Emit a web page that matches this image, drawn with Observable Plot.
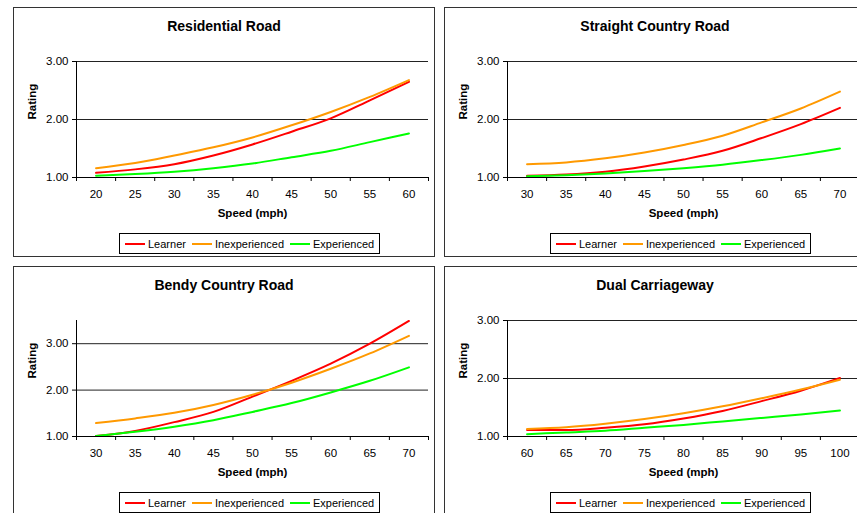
<!DOCTYPE html>
<html>
<head>
<meta charset="utf-8">
<script src="https://cdn.jsdelivr.net/npm/d3@7"></script>
<script src="https://cdn.jsdelivr.net/npm/@observablehq/plot@0.6"></script>
<style>
  body { margin: 0; background: #fff; font-family: "Liberation Sans", Arial, sans-serif; }
  #wrap { position: relative; width: 857px; height: 513px; overflow: hidden; background: #fff; }
  .panel { position: absolute; width: 420px; height: 248px; border: 1px solid #333; background: #fff; }
  .panel svg { position: absolute; left: 0; top: 0; overflow: visible; }
  .title { position: absolute; left: 0; width: 420px; top: 10px; text-align: center; font-weight: bold; font-size: 14px; line-height: 16px; color: #000; }
  .legend { position: absolute; left: 105px; top: 225px; height: 19px; border: 1px solid #000; display: flex; align-items: center; font-size: 11px; padding: 0 5px 0 5px; background: #fff; color: #000; }
  .sw { display: inline-block; width: 20px; height: 2px; margin-right: 3px; }
  .lab { margin-right: 6px; }
  .lab:last-child { margin-right: 0; }
</style>
</head>
<body>
<div id="wrap"></div>
<script>
// ---- data ----
const seriesNames = ["Learner", "Inexperienced", "Experienced"];
const seriesColors = ["#ff0000", "#ff9900", "#00ff00"];

const residentialSpeeds = [20, 25, 30, 35, 40, 45, 50, 55, 60];
const residentialLearner = [1.08, 1.14, 1.23, 1.38, 1.57, 1.79, 2.02, 2.33, 2.65];
const residentialInexperienced = [1.16, 1.25, 1.38, 1.52, 1.69, 1.90, 2.13, 2.39, 2.68];
const residentialExperienced = [1.03, 1.06, 1.10, 1.16, 1.24, 1.35, 1.46, 1.61, 1.76];

const straightSpeeds = [30, 35, 40, 45, 50, 55, 60, 65, 70];
const straightLearner = [1.03, 1.05, 1.10, 1.19, 1.31, 1.46, 1.68, 1.92, 2.20];
const straightInexperienced = [1.23, 1.26, 1.33, 1.43, 1.56, 1.72, 1.95, 2.19, 2.48];
const straightExperienced = [1.02, 1.04, 1.07, 1.11, 1.16, 1.22, 1.30, 1.39, 1.50];

const bendySpeeds = [30, 35, 40, 45, 50, 55, 60, 65, 70];
const bendyLearner = [1.01, 1.12, 1.31, 1.53, 1.86, 2.20, 2.57, 3.00, 3.49];
const bendyInexperienced = [1.29, 1.39, 1.51, 1.68, 1.90, 2.16, 2.46, 2.79, 3.17];
const bendyExperienced = [1.01, 1.10, 1.21, 1.35, 1.53, 1.72, 1.95, 2.20, 2.49];

const dualSpeeds = [60, 65, 70, 75, 80, 85, 90, 95, 100];
const dualLearner = [1.11, 1.11, 1.15, 1.21, 1.31, 1.44, 1.61, 1.79, 2.01];
const dualInexperienced = [1.13, 1.16, 1.22, 1.30, 1.40, 1.52, 1.66, 1.81, 1.98];
const dualExperienced = [1.04, 1.07, 1.10, 1.15, 1.20, 1.26, 1.32, 1.38, 1.45];

const yTicks = [1, 2, 3];
const xLabel = "Speed (mph)";
const yLabel = "Rating";

const panels = [
  {title: "Residential Road", speeds: residentialSpeeds, series: [residentialLearner, residentialInexperienced, residentialExperienced], yMax: 3, left: 13, top: 7},
  {title: "Straight Country Road", speeds: straightSpeeds, series: [straightLearner, straightInexperienced, straightExperienced], yMax: 3, left: 444, top: 7},
  {title: "Bendy Country Road", speeds: bendySpeeds, series: [bendyLearner, bendyInexperienced, bendyExperienced], yMax: 3.5, left: 13, top: 266},
  {title: "Dual Carriageway", speeds: dualSpeeds, series: [dualLearner, dualInexperienced, dualExperienced], yMax: 3, left: 444, top: 266}
];

const wrap = document.getElementById("wrap");

for (const p of panels) {
  const div = document.createElement("div");
  div.className = "panel";
  div.style.left = p.left + "px";
  div.style.top = p.top + "px";

  const rows = [];
  p.series.forEach((vals, si) => {
    vals.forEach((v, i) => rows.push({series: seriesNames[si], speed: p.speeds[i], rating: v}));
  });
  const step = p.speeds[1] - p.speeds[0];
  const xMin = p.speeds[0] - step / 2;
  const xMax = p.speeds[p.speeds.length - 1] + step / 2;
  const boundaries = p.speeds.map(s => s - step / 2).concat([xMax]);
  const grid = yTicks.filter(t => t > 1);

  const chart = Plot.plot({
    width: 420,
    height: 248,
    marginLeft: 62,
    marginRight: 6,
    marginTop: 53,
    marginBottom: 79,
    style: {fontFamily: "'Liberation Sans', Arial, sans-serif", fontSize: "11.5px", color: "#000", background: "transparent", overflow: "visible"},
    x: {domain: [xMin, xMax]},
    y: {domain: [1, p.yMax]},
    color: {domain: seriesNames, range: seriesColors},
    marks: [
      Plot.ruleY(grid, {stroke: "#222", strokeWidth: 1}),
      Plot.axisY(yTicks, {tickSize: 4, tickPadding: 4, tickFormat: d => d.toFixed(2), label: null, stroke: "#000"}),
      Plot.axisX(boundaries, {tickSize: 4, fill: "none", label: null, stroke: "#000"}),
      Plot.axisX(p.speeds, {tickSize: 0, tickPadding: 12, label: null}),
      Plot.line(rows, {x: "speed", y: "rating", stroke: "series", z: "series", strokeWidth: 2, curve: "monotone-x"}),
      Plot.ruleY([1], {stroke: "#000", strokeWidth: 1}),
      Plot.ruleX([xMin], {stroke: "#000", strokeWidth: 1}),
      Plot.text([yLabel], {frameAnchor: "left", dx: -44, rotate: -90, fontWeight: "bold", fontSize: 11.5}),
      Plot.text([xLabel], {frameAnchor: "bottom", dy: 39, fontWeight: "bold", fontSize: 11.5})
    ]
  });
  div.appendChild(chart);

  const t = document.createElement("div");
  t.className = "title";
  t.textContent = p.title;
  div.appendChild(t);

  const lg = document.createElement("div");
  lg.className = "legend";
  seriesNames.forEach((n, i) => {
    const sw = document.createElement("span");
    sw.className = "sw";
    sw.style.background = seriesColors[i];
    const lb = document.createElement("span");
    lb.className = "lab";
    lb.textContent = n;
    lg.appendChild(sw);
    lg.appendChild(lb);
  });
  div.appendChild(lg);

  wrap.appendChild(div);
}
</script>
</body>
</html>
